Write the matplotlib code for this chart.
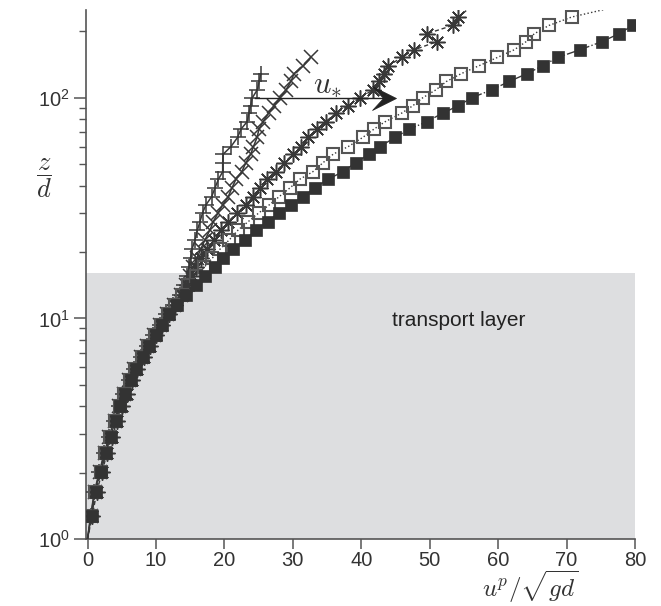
import numpy as np
import matplotlib
matplotlib.use("Agg")
import matplotlib.pyplot as plt
from matplotlib.path import Path
from matplotlib.ticker import FixedLocator, NullFormatter

plt.rcParams['font.family'] = ['Liberation Sans', 'DejaVu Sans']
plt.rcParams['mathtext.fontset'] = 'cm'

# wall-normal grid z/d shared by all profiles
z_grid = [1.0, 1.271, 1.639, 2.020, 2.455, 2.910, 3.440, 4.010, 4.545, 5.262,
          5.884, 6.668, 7.505, 8.418, 9.344, 10.48, 11.55, 12.79, 14.19, 15.58,
          17.07, 18.75, 20.60, 22.70, 25.20, 27.48, 30.19, 32.71, 35.67, 39.06,
          42.80, 46.17, 50.89, 55.55, 60.13, 66.07, 72.11, 77.84, 85.22, 91.98,
          100.0, 108.7, 118.6, 128.5, 139.7, 152.3, 165.1, 179.5, 195.1, 212.8,
          232.3, 258.0]

# particle velocity profiles u^p / sqrt(gd), increasing shear velocity
u_plus = [0.0, 0.45, 1.0, 1.75, 2.45, 3.15, 3.9, 4.55, 5.25, 6.05, 6.8, 7.75,
          8.65, 9.6, 10.55, 11.5, 12.5, 13.55, 14.15, 14.54, 14.83, 15.05, 15.27,
          15.71, 16.07, 16.44, 16.83, 17.31, 18.15, 18.63, 19.14, 19.75, 19.75,
          19.84, 20.97, 21.92, 22.43, 23.31, 23.60, 23.82, 24.08, 24.81, 25.10,
          25.31]
u_cross = [0.0, 0.5, 1.05, 1.8, 2.5, 3.2, 3.95, 4.6, 5.3, 6.1, 6.85, 7.8, 8.7,
           9.65, 10.6, 11.6, 12.6, 13.7, 14.4, 14.98, 15.41, 16.0, 16.54, 17.17,
           17.90, 18.38, 19.11, 19.75, 20.57, 21.11, 21.70, 22.53, 23.16, 23.85,
           24.25, 24.77, 25.06, 25.64, 26.45, 27.25, 28.13, 29.00, 29.73, 30.17,
           31.53, 32.61]
u_star = [0.0, 0.7, 1.35, 2.15, 2.85, 3.6, 4.35, 5.0, 5.7, 6.5, 7.25, 8.2, 9.1,
          10.0, 10.9, 11.85, 12.85, 13.85, 14.6, 15.27, 15.85, 16.58, 17.46,
          18.48, 19.51, 20.57, 21.89, 23.16, 24.14, 25.20, 26.27, 27.50, 28.75,
          30.07, 31.15, 32.26, 33.49, 34.80, 36.31, 38.11, 39.82, 41.76, 42.64,
          43.32, 43.95, 45.91, 47.75, 51.02, 49.56, 53.36, 54.18, 56.0]
u_open = [0.0, 0.55, 1.15, 1.90, 2.60, 3.30, 4.05, 4.70, 5.40, 6.20, 7.00, 7.95,
          8.85, 9.80, 10.75, 11.75, 12.80, 13.75, 14.75, 15.85, 17.07, 18.23,
          19.36, 20.72, 22.03, 23.50, 25.10, 26.56, 28.02, 29.59, 31.05, 32.90,
          34.45, 35.91, 38.11, 40.21, 41.86, 43.47, 45.91, 47.52, 48.98, 50.92,
          52.45, 54.57, 57.20, 59.88, 62.36, 64.07, 65.28, 67.43, 70.75, 77.1]
u_filled = [0.0, 0.61, 1.20, 1.97, 2.66, 3.39, 4.12, 4.75, 5.48, 6.31, 7.09,
            8.07, 8.99, 9.97, 10.93, 11.95, 13.12, 14.39, 15.85, 17.17, 18.63,
            19.75, 21.30, 23.01, 24.62, 26.33, 28.02, 29.73, 31.53, 33.24, 35.18,
            37.29, 39.23, 41.17, 42.74, 44.93, 47.02, 49.56, 51.90, 54.18, 56.14,
            59.06, 61.63, 64.17, 66.51, 68.70, 71.96, 75.13, 77.66, 79.66]

layer_top = 16.0
x_ticks = [0, 10, 20, 30, 40, 50, 60, 70, 80]
y_major = [1, 10, 100]
y_labels = [r'$\mathregular{10^{0}}$', r'$\mathregular{10^{1}}$', r'$\mathregular{10^{2}}$']
arrow_start, arrow_tip, arrow_z = 24.45, 45.07, 100.0

fig = plt.figure(figsize=(6.61, 6.06), dpi=100)
ax = fig.add_axes([86 / 661, 67 / 606, 549 / 661, 529 / 606])
ax.set_yscale('log')
ax.set_xlim(-0.22, 80)
ax.set_ylim(1, 250)

ax.axhspan(1, layer_top, color='#dddee0', lw=0, zorder=0)
ax.text(54.3, 9.75, 'transport layer', fontsize=15, color='#222222',
        ha='center', va='center')

dark = '#383838'
asterisk = (8, 2, 0)

ax.plot(u_plus, z_grid[:len(u_plus)], '-', color=dark, lw=1.1, marker='+',
        ms=11.5, mew=1.1, markevery=list(range(1, len(u_plus))), zorder=3)
ax.plot(u_cross, z_grid[:len(u_cross)], '-', color=dark, lw=1.1, marker='x',
        ms=9.5, mew=1.1, markevery=list(range(1, len(u_cross))), zorder=3)
ax.plot(u_star, z_grid[:len(u_star)], '--', dashes=(3, 2), color=dark, lw=1.0,
        marker=asterisk, ms=11.5, mew=1.1,
        markevery=list(range(1, len(u_star) - 1)), zorder=3)
ax.plot(u_open, z_grid[:len(u_open)], ':', color=dark, lw=1.0, marker='s',
        ms=8.3, mfc='none', mec='#555555', mew=1.5,
        markevery=list(range(1, len(u_open) - 1)), zorder=3)
ax.plot(u_filled, z_grid[:len(u_filled)], '-.', color=dark, lw=1.0, marker='s',
        ms=8.5, mfc='#333333', mec='#333333', mew=0.5,
        markevery=list(range(1, len(u_filled))), zorder=4)

# u_* arrow: thin shaft with a swept head
ax.plot([arrow_start, arrow_tip - 1.2], [arrow_z, arrow_z], '-', color='#222222',
        lw=1.0, zorder=5)
head = Path([(0, 0), (-24, 12), (-13, 0), (-24, -12), (0, 0)],
            [Path.MOVETO, Path.LINETO, Path.LINETO, Path.LINETO, Path.CLOSEPOLY])
ax.plot([arrow_tip], [arrow_z], marker=head, ms=34.5, color='#222222',
        mec='#222222', mew=0.5, ls='none', zorder=6)
ax.text(35.1, 114.5, r'$u_{\ast}$', fontsize=22, color='#333333',
        ha='center', va='center')

# axes styling
for side in ('top', 'right'):
    ax.spines[side].set_visible(False)
for side in ('left', 'bottom'):
    ax.spines[side].set_color('#555555')
    ax.spines[side].set_linewidth(1.2)

ax.xaxis.set_major_locator(FixedLocator(x_ticks))
ax.set_xticklabels([str(t) for t in x_ticks])
ax.yaxis.set_major_locator(FixedLocator(y_major))
ax.set_yticklabels(y_labels)
minor = [m * 10 ** k for k in range(0, 3) for m in range(2, 10) if m * 10 ** k <= 250]
ax.yaxis.set_minor_locator(FixedLocator(minor))
ax.yaxis.set_minor_formatter(NullFormatter())
ax.tick_params(axis='both', which='major', direction='out', length=7, width=1.1,
               color='#555555', labelsize=14.5, labelcolor='#333333', pad=2)
ax.tick_params(axis='y', which='major', length=9, pad=3)
ax.tick_params(axis='y', which='minor', direction='out', length=5, width=1.0,
               color='#555555')

ax.text(0.809, -0.110, r'$u^p/\sqrt{gd}$', transform=ax.transAxes,
        fontsize=18, color='#333333', ha='center', va='baseline')
ax.text(-0.077, 0.682, r'$\dfrac{z}{d}$', transform=ax.transAxes,
        fontsize=19, color='#333333', ha='center', va='center')

fig.savefig('out.png', dpi=100)
